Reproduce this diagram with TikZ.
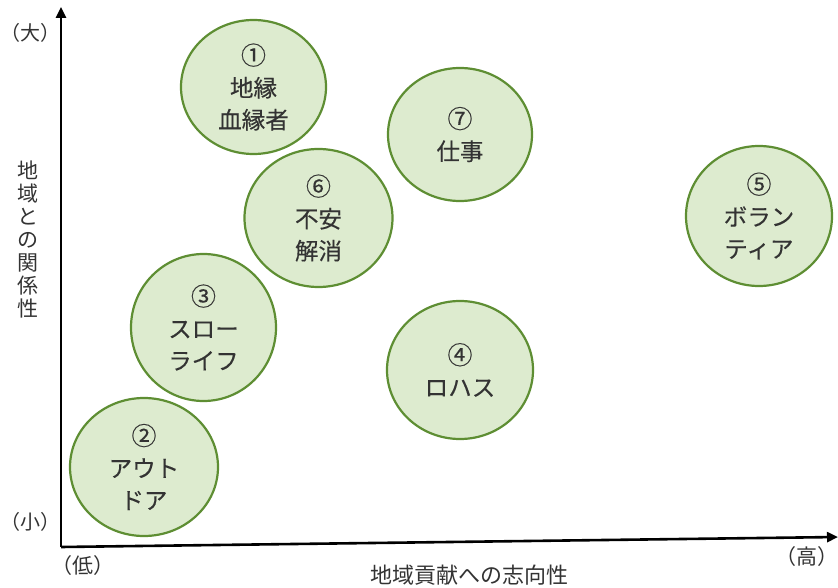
\documentclass[tikz,border=0pt]{standalone}
\usepackage{fontspec}
\setmainfont{Noto Sans CJK JP}
\newfontfamily\bubblefont[FakeBold=0.25]{Noto Sans CJK JP}
\usetikzlibrary{shapes.geometric,arrows.meta}
\definecolor{cfill}{HTML}{DDEBCF}
\definecolor{cdraw}{HTML}{5E8E33}
\definecolor{ctext}{HTML}{333333}
\newcommand{\cnum}[1]{{\fontsize{25pt}{32pt}\selectfont #1}}
\newcommand{\paren}[1]{\kern-0.42em（#1）\kern-0.42em}
\begin{document}
\begin{tikzpicture}[x=1pt,y=-1pt,
  bubble/.style={ellipse, draw=cdraw, fill=cfill, line width=2.2pt, inner sep=0pt,
    text=ctext, font=\bubblefont\fontsize{23.5pt}{32pt}\selectfont, align=center},
  lbl/.style={text=ctext, font=\fontsize{21pt}{23pt}\selectfont, inner sep=0pt, align=center},
  sidelbl/.style={lbl, font=\fontsize{20pt}{23pt}\selectfont},
  axisline/.style={line width=2.6pt, black, -{Triangle[length=11pt,width=10pt]}}]
\useasboundingbox (0,0) rectangle (838,588);
% axes
\coordinate (O) at (61,547);
\coordinate (ytip) at (61,7);
\coordinate (xtip) at (838,537);
\draw[axisline] (O) -- (ytip);
\draw[axisline] (O) -- (xtip);
% axis labels
\node[sidelbl] (big) at (30.5,33) {\paren{大}};
\node[sidelbl] (small) at (30.5,522) {\paren{小}};
\node[lbl] (low) at (83,566) {\paren{低}};
\node[lbl] (high) at (807,557) {\paren{高}};
\node[lbl, font=\fontsize{22pt}{23pt}\selectfont] (xlabel) at (469,575) {地域貢献への志向性};
\node[lbl] (ylabel) at (28,240) {地\\域\\と\\の\\関\\係\\性};
% bubbles
\node[bubble, minimum width=145pt, minimum height=134pt] (c1) at (253.5,87) {\cnum{①}\\地縁\\血縁者};
\node[bubble, minimum width=148pt, minimum height=138pt] (c2) at (144,467) {\cnum{②}\\アウト\\ドア};
\node[bubble, minimum width=145pt, minimum height=147pt] (c3) at (203.5,327.5) {\cnum{③}\\スロー\\ライフ};
\node[bubble, minimum width=146pt, minimum height=138pt] (c4) at (460,370) {\cnum{④}\\ロハス};
\node[bubble, minimum width=146pt, minimum height=140pt] (c5) at (759,216) {\cnum{⑤}\\ボラン\\ティア};
\node[bubble, minimum width=148pt, minimum height=138pt] (c6) at (318.5,218) {\cnum{⑥}\\不安\\解消};
\node[bubble, minimum width=144pt, minimum height=133pt] (c7) at (460,134.5) {\cnum{⑦}\\仕事};
\end{tikzpicture}
\end{document}
